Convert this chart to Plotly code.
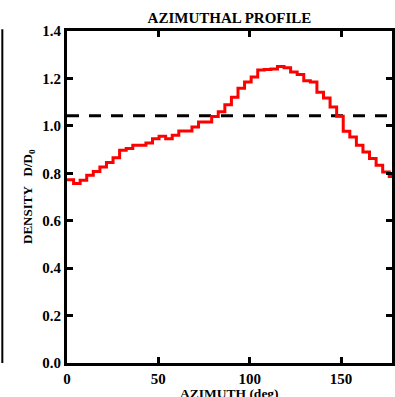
import plotly.graph_objects as go

# ---------------- data ----------------
BIN_WIDTH = 3.6  # degrees
azimuth_left_edges = [round(i * BIN_WIDTH, 1) for i in range(50)]
density = [
    0.773, 0.757, 0.771, 0.792, 0.808, 0.827, 0.845, 0.866, 0.897, 0.904,
    0.918, 0.918, 0.928, 0.946, 0.956, 0.946, 0.960, 0.978, 0.978, 0.995,
    1.016, 1.016, 1.039, 1.060, 1.089, 1.121, 1.159, 1.185, 1.206, 1.236,
    1.238, 1.240, 1.250, 1.245, 1.227, 1.217, 1.190, 1.185, 1.142, 1.117,
    1.079, 1.040, 0.977, 0.953, 0.918, 0.890, 0.862, 0.834, 0.805, 0.786,
]
reference_level = 1.043
x_range = [0, 177.9]
x_ticks = [0, 50, 100, 150]
y_ticks = [0.0, 0.2, 0.4, 0.6, 0.8, 1.0, 1.2, 1.4]
y_tick_labels = ["0.0", "0.2", "0.4", "0.6", "0.8", "1.0", "1.2", "1.4"]

# step (histogram) line: close the last bin at its right edge
step_x = azimuth_left_edges + [azimuth_left_edges[-1] + BIN_WIDTH]
step_y = density + [density[-1]]

FONT = "Liberation Serif"

fig = go.Figure()
fig.add_trace(go.Scatter(
    x=[x_range[0], 180], y=[reference_level, reference_level],
    mode="lines", line=dict(color="black", width=3, dash="12px,10px"),
    hoverinfo="skip", showlegend=False,
))
fig.add_trace(go.Scatter(
    x=step_x, y=step_y, mode="lines", line_shape="hv",
    line=dict(color="#ff0000", width=3),
    showlegend=False,
))

axis_common = dict(
    showline=True, linecolor="black", linewidth=3, mirror="ticks",
    ticks="inside", ticklen=6, tickwidth=3, tickcolor="black",
    showgrid=False, zeroline=False,
    tickfont=dict(family=FONT, size=15, color="black", weight="bold"),
)

fig.update_layout(
    width=395, height=397,
    margin=dict(l=67, r=0, t=31, b=34),
    paper_bgcolor="white", plot_bgcolor="white",
    title=dict(
        text="AZIMUTHAL PROFILE", x=0.5, xref="paper", xanchor="center",
        y=1 - 18 / 397, yref="container", yanchor="middle",
        font=dict(family=FONT, size=15, color="black", weight="bold"),
    ),
    xaxis=dict(range=x_range, tickvals=x_ticks, **axis_common),
    yaxis=dict(range=[0, 1.4], tickvals=y_ticks, ticktext=y_tick_labels,
               **axis_common),
    annotations=[
        dict(text="AZIMUTH (deg)", x=0.5, xref="paper", y=0, yref="paper",
             xanchor="center", yanchor="middle", yshift=-30, showarrow=False,
             font=dict(family=FONT, size=13.5, color="black", weight="bold")),
        dict(text="DENSITY&nbsp;&nbsp;&nbsp;D/D<sub>0</sub>", x=0, xref="paper",
             y=0.5, yref="paper", xanchor="center", yanchor="middle",
             xshift=-39, textangle=-90, showarrow=False,
             font=dict(family=FONT, size=13, color="black", weight="bold")),
    ],
    shapes=[
        dict(type="line", xref="paper", yref="paper",
             x0=-0.199, x1=-0.199, y0=0, y1=1.005,
             line=dict(color="black", width=2)),
    ],
)

fig.write_html("out.html")
